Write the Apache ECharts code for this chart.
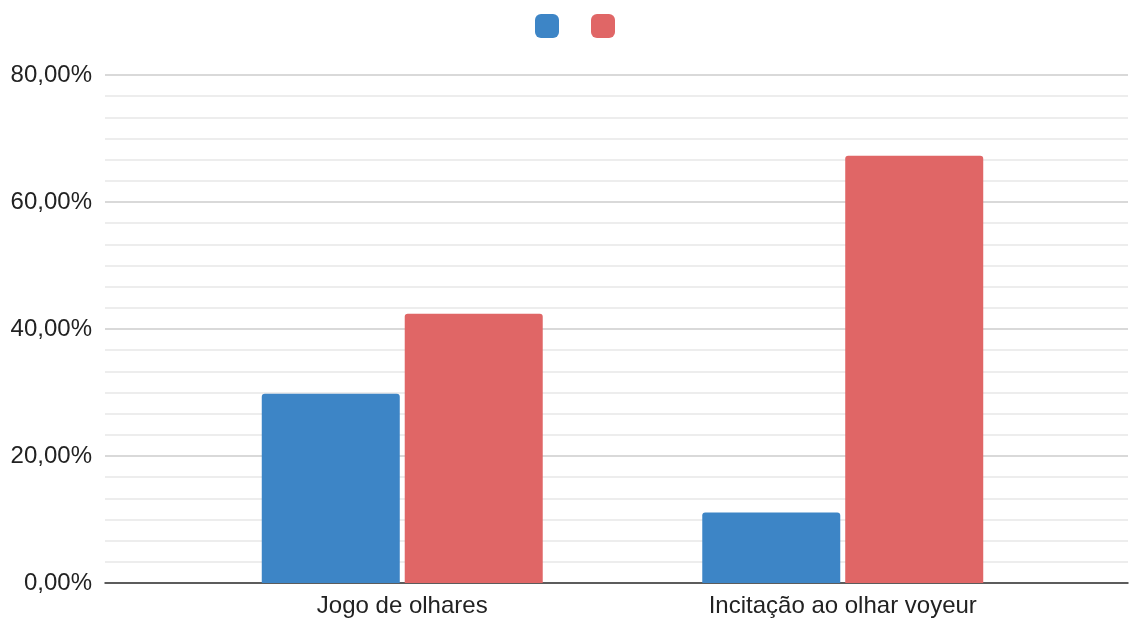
<!DOCTYPE html>
<html>
<head>
<meta charset="utf-8">
<script src="https://cdn.jsdelivr.net/npm/echarts@6/dist/echarts.min.js"></script>
<style>
  html, body { margin: 0; padding: 0; background: #fff; }
  #chart { width: 1129px; height: 619px; }
</style>
</head>
<body>
<div id="chart"></div>
<script>
var categories = ['Jogo de olhares', 'Incitação ao olhar voyeur'];
var serieA = [0.298, 0.111];
var serieB = [0.424, 0.673];
var yTicks = [0, 0.2, 0.4, 0.6, 0.8];

var chart = echarts.init(document.getElementById('chart'));

function pct(v) {
  return (v * 100).toFixed(2).replace('.', ',') + '%';
}

var option = {
  animation: false,
  textStyle: { fontFamily: 'Liberation Sans' },
  legend: {
    left: 530,
    top: 9,
    itemWidth: 24,
    itemHeight: 24,
    itemGap: 32,
    formatter: function () { return ''; },
    data: [
      { name: 'A', icon: 'roundRect' },
      { name: 'B', icon: 'roundRect' }
    ]
  },
  grid: [
    { left: 105, right: 1, top: 75, bottom: 36 },
    { left: 182, right: 66, top: 75, bottom: 36 }
  ],
  xAxis: [
    {
      gridIndex: 0,
      type: 'category',
      data: ['', ''],
      axisLine: { lineStyle: { color: '#333', width: 1.5 } },
      axisTick: { show: false },
      axisLabel: { show: false }
    },
    {
      gridIndex: 1,
      type: 'category',
      data: categories,
      axisLine: { show: false },
      axisTick: { show: false },
      axisLabel: { color: '#222', fontSize: 24, margin: 11 }
    }
  ],
  yAxis: [
    {
      gridIndex: 0,
      type: 'value',
      min: yTicks[0],
      max: yTicks[yTicks.length - 1],
      interval: 0.2,
      axisLine: { show: false },
      axisTick: { show: false },
      axisLabel: { color: '#222', fontSize: 24, margin: 13, formatter: pct },
      splitLine: { lineStyle: { color: '#cccccc', width: 1.5 } },
      minorTick: { show: false, splitNumber: 6 },
      minorSplitLine: { show: true, lineStyle: { color: '#e8e8e8', width: 1.5 } }
    },
    {
      gridIndex: 1,
      type: 'value',
      min: yTicks[0],
      max: yTicks[yTicks.length - 1],
      interval: 0.2,
      show: false,
      splitLine: { show: false }
    }
  ],
  series: [
    {
      name: 'A',
      type: 'bar',
      xAxisIndex: 1,
      yAxisIndex: 1,
      barWidth: 138,
      barGap: '3.6%',
      itemStyle: { color: '#3d85c6', borderRadius: [3, 3, 0, 0] },
      data: serieA
    },
    {
      name: 'B',
      type: 'bar',
      xAxisIndex: 1,
      yAxisIndex: 1,
      barWidth: 138,
      barGap: '3.6%',
      itemStyle: { color: '#e06666', borderRadius: [3, 3, 0, 0] },
      data: serieB
    }
  ]
};

chart.setOption(option);
</script>
</body>
</html>
